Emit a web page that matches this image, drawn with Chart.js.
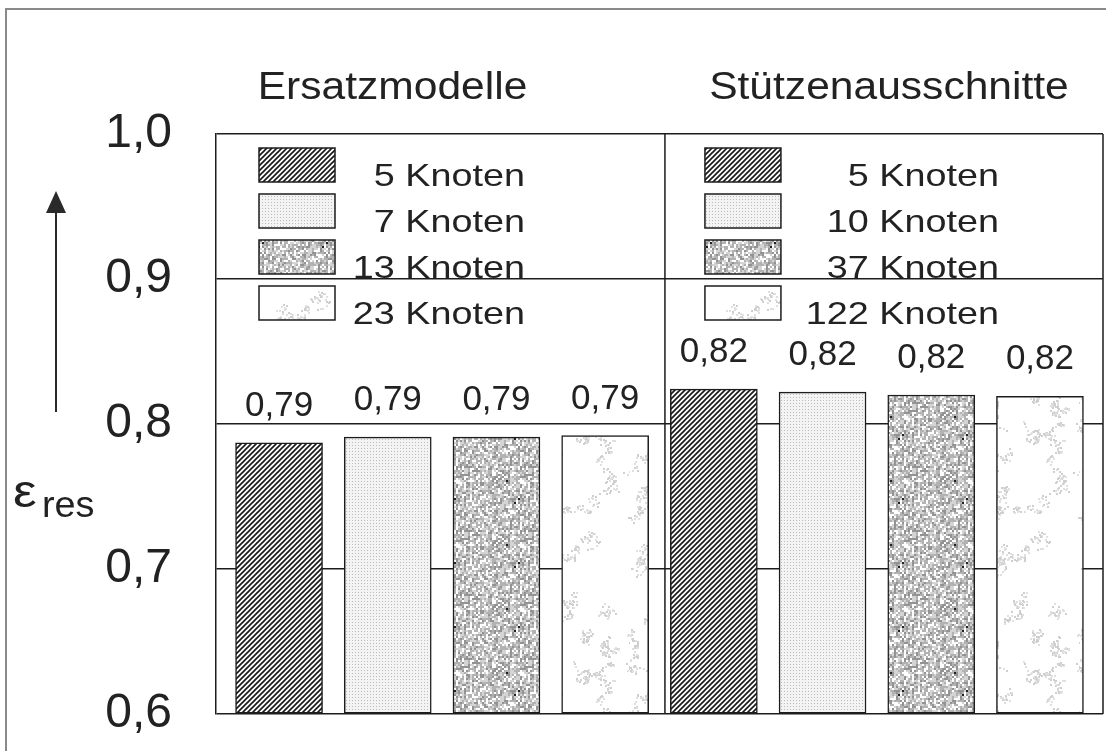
<!DOCTYPE html>
<html>
<head>
<meta charset="utf-8">
<script src="https://cdn.jsdelivr.net/npm/chart.js@4.4.0/dist/chart.umd.min.js"></script>
<style>
  html, body { margin: 0; padding: 0; background: #fff; }
  #contenedor { position: relative; width: 1106px; height: 751px; }
</style>
</head>
<body>
<div id="contenedor"><canvas id="grafico"></canvas></div>
<script>
// Datos
const grupos = ['Ersatzmodelle', 'Stützenausschnitte'];
const etiquetasIzq = ['5 Knoten', '7 Knoten', '13 Knoten', '23 Knoten'];
const etiquetasDer = ['5 Knoten', '10 Knoten', '37 Knoten', '122 Knoten'];
const valoresIzq = [0.787, 0.791, 0.791, 0.792];
const valoresDer = [0.824, 0.822, 0.820, 0.819];
const ticksY = [0.6, 0.7, 0.8, 0.9, 1.0];

const TEXTO = '#222';
const LINEA = '#1c1c1c';
const FUENTE = '"Liberation Sans", Arial, Helvetica, sans-serif';

// generador pseudoaleatorio fijo (solo para las texturas)
let semilla = 20231;
function azar() {
    semilla = (semilla * 16807) % 2147483647;
    return semilla / 2147483647;
}

function nuevoLienzo(w, h) {
    const c = document.createElement('canvas');
    c.width = w; c.height = h;
    return c;
}

function patronRayado() {
    const c = nuevoLienzo(5, 5);
    const g = c.getContext('2d');
    g.fillStyle = '#fff';
    g.fillRect(0, 0, 5, 5);
    g.strokeStyle = '#1a1a1a';
    g.lineWidth = 1.7;
    [[0, 5, 5, 0], [-1, 1, 1, -1], [4, 6, 6, 4]].forEach(l => {
        g.beginPath(); g.moveTo(l[0], l[1]); g.lineTo(l[2], l[3]); g.stroke();
    });
    return g.createPattern(c, 'repeat');
}

function patronPuntos() {
    const c = nuevoLienzo(3, 3);
    const g = c.getContext('2d');
    g.fillStyle = '#f3f3f3';
    g.fillRect(0, 0, 3, 3);
    g.fillStyle = '#bdbdbd';
    g.fillRect(1, 1, 1, 1);
    return g.createPattern(c, 'repeat');
}

function patronGranulado() {
    const c = nuevoLienzo(64, 64);
    const g = c.getContext('2d');
    for (let y = 0; y < 64; y += 2) {
        for (let x = 0; x < 64; x += 2) {
            const r = azar();
            let color = '#ffffff';
            if (r > 0.994) color = '#222222';
            else if (r > 0.80) color = '#939393';
            else if (r > 0.50) color = '#b2b2b2';
            else if (r > 0.24) color = '#d4d4d4';
            g.fillStyle = color;
            g.fillRect(x, y, 2, 2);
        }
    }
    return g.createPattern(c, 'repeat');
}

function patronManchas() {
    const c = nuevoLienzo(90, 240);
    const g = c.getContext('2d');
    g.fillStyle = '#fff';
    g.fillRect(0, 0, 90, 240);
    for (let k = 0; k < 22; k++) {
        let x = azar() * 90, y = azar() * 240;
        for (let p = 0; p < 30; p++) {
            x = (x + (azar() - 0.5) * 8 + 90) % 90;
            y = (y + (azar() - 0.5) * 8 + 240) % 240;
            g.fillStyle = azar() > 0.5 ? '#cfcfcf' : '#e0e0e0';
            g.fillRect(Math.floor(x), Math.floor(y), 2, 2);
        }
    }
    return g.createPattern(c, 'repeat');
}

const patrones = [patronRayado(), patronPuntos(), patronGranulado(), patronManchas()];

const valores = [...valoresIzq, ...valoresDer];
const datos = valores.map((v, i) => ({ x: i, y: v }));
const fondos = valores.map((v, i) => patrones[i % 4]);

function escribir(ctx, txt, x, y, size, estirar, align) {
    ctx.save();
    ctx.font = size + 'px ' + FUENTE;
    ctx.fillStyle = TEXTO;
    ctx.textAlign = align;
    ctx.textBaseline = 'alphabetic';
    ctx.translate(x, y);
    ctx.scale(estirar, 1);
    ctx.fillText(txt, 0, 0);
    ctx.restore();
}

// marco, divisor, leyendas, etiquetas y título del eje
const decoracion = {
    id: 'decoracion',
    beforeDatasetsDraw(chart) {
        const { ctx, chartArea, scales } = chart;
        const xDiv = scales.x.getPixelForValue(3.55);
        ctx.save();
        ctx.strokeStyle = LINEA;
        ctx.lineWidth = 1.5;
        ctx.beginPath();
        ctx.moveTo(xDiv, chartArea.top);
        ctx.lineTo(xDiv, chartArea.bottom);
        ctx.moveTo(chartArea.right, chartArea.top);
        ctx.lineTo(chartArea.right, chartArea.bottom);
        ctx.stroke();
        ctx.restore();
    },
    afterDatasetsDraw(chart) {
        const { ctx, chartArea, scales } = chart;
        const meta = chart.getDatasetMeta(0);

        // valores sobre las barras
        meta.data.forEach((barra, i) => {
            const txt = valores[i].toFixed(2).replace('.', ',');
            escribir(ctx, txt, barra.x, barra.y - 27, 35, 1, 'center');
        });

        // leyendas
        const xDiv = scales.x.getPixelForValue(3.55);
        const bloques = [
            { xCaja: chartArea.left + 43, xTexto: chartArea.left + 309, etiquetas: etiquetasIzq },
            { xCaja: xDiv + 40, xTexto: xDiv + 334, etiquetas: etiquetasDer }
        ];
        bloques.forEach(b => {
            b.etiquetas.forEach((et, i) => {
                const y = chartArea.top + 14 + i * 46;
                ctx.save();
                ctx.fillStyle = patrones[i];
                ctx.fillRect(b.xCaja, y, 76, 34);
                ctx.strokeStyle = LINEA;
                ctx.lineWidth = 1.5;
                ctx.strokeRect(b.xCaja, y, 76, 34);
                ctx.restore();
                escribir(ctx, et, b.xTexto, y + 38, 32, 1.18, 'right');
            });
        });

        // títulos de grupo
        escribir(ctx, grupos[0], (chartArea.left + xDiv) / 2 - 48, 99, 38, 1.12, 'center');
        escribir(ctx, grupos[1], (xDiv + chartArea.right) / 2 + 5, 99, 38, 1.12, 'center');

        // flecha y símbolo del eje
        ctx.save();
        ctx.strokeStyle = '#2a2a2a';
        ctx.fillStyle = '#2a2a2a';
        ctx.lineWidth = 2;
        ctx.beginPath();
        ctx.moveTo(56, 412);
        ctx.lineTo(56, 210);
        ctx.stroke();
        ctx.beginPath();
        ctx.moveTo(56, 191);
        ctx.lineTo(46, 213);
        ctx.lineTo(66, 213);
        ctx.closePath();
        ctx.fill();
        ctx.restore();
        escribir(ctx, 'ε', 13, 507, 46, 1.15, 'left');
        escribir(ctx, 'res', 42, 517, 36, 1.05, 'left');

        // marco exterior
        ctx.save();
        ctx.strokeStyle = '#8a8a8a';
        ctx.lineWidth = 2;
        ctx.beginPath();
        ctx.moveTo(6, 751);
        ctx.lineTo(6, 9);
        ctx.lineTo(1106, 9);
        ctx.stroke();
        ctx.restore();
    }
};

const grafico = new Chart(document.getElementById('grafico'), {
    type: 'bar',
    data: {
        datasets: [{
            label: 'eps_res',
            data: datos,
            backgroundColor: fondos,
            borderColor: LINEA,
            borderWidth: 1.5,
            borderSkipped: false,
            barThickness: 87,
            base: ticksY[0]
        }]
    },
    options: {
        responsive: true,
        maintainAspectRatio: false,
        animation: false,
        layout: {
            padding: { top: 134, right: 3, bottom: 37, left: 0 }
        },
        plugins: {
            legend: { display: false },
            tooltip: { enabled: false }
        },
        scales: {
            x: {
                type: 'linear',
                min: -0.58,
                max: 7.58,
                offset: false,
                display: false
            },
            y: {
                min: ticksY[0],
                max: ticksY[ticksY.length - 1],
                afterFit: (escala) => {
                    escala.width = 216;
                    escala.paddingTop = 0;
                    escala.paddingBottom = 0;
                },
                afterBuildTicks: (escala) => {
                    escala.ticks = ticksY.map(v => ({ value: v }));
                },
                ticks: {
                    padding: 44,
                    color: TEXTO,
                    font: { family: FUENTE, size: 48 },
                    callback: (v) => Number(v).toFixed(1).replace('.', ',')
                },
                grid: {
                    color: LINEA,
                    lineWidth: 1.5,
                    drawTicks: false
                },
                border: {
                    color: LINEA,
                    width: 1.5
                }
            }
        }
    },
    plugins: [decoracion]
});
</script>
</body>
</html>
